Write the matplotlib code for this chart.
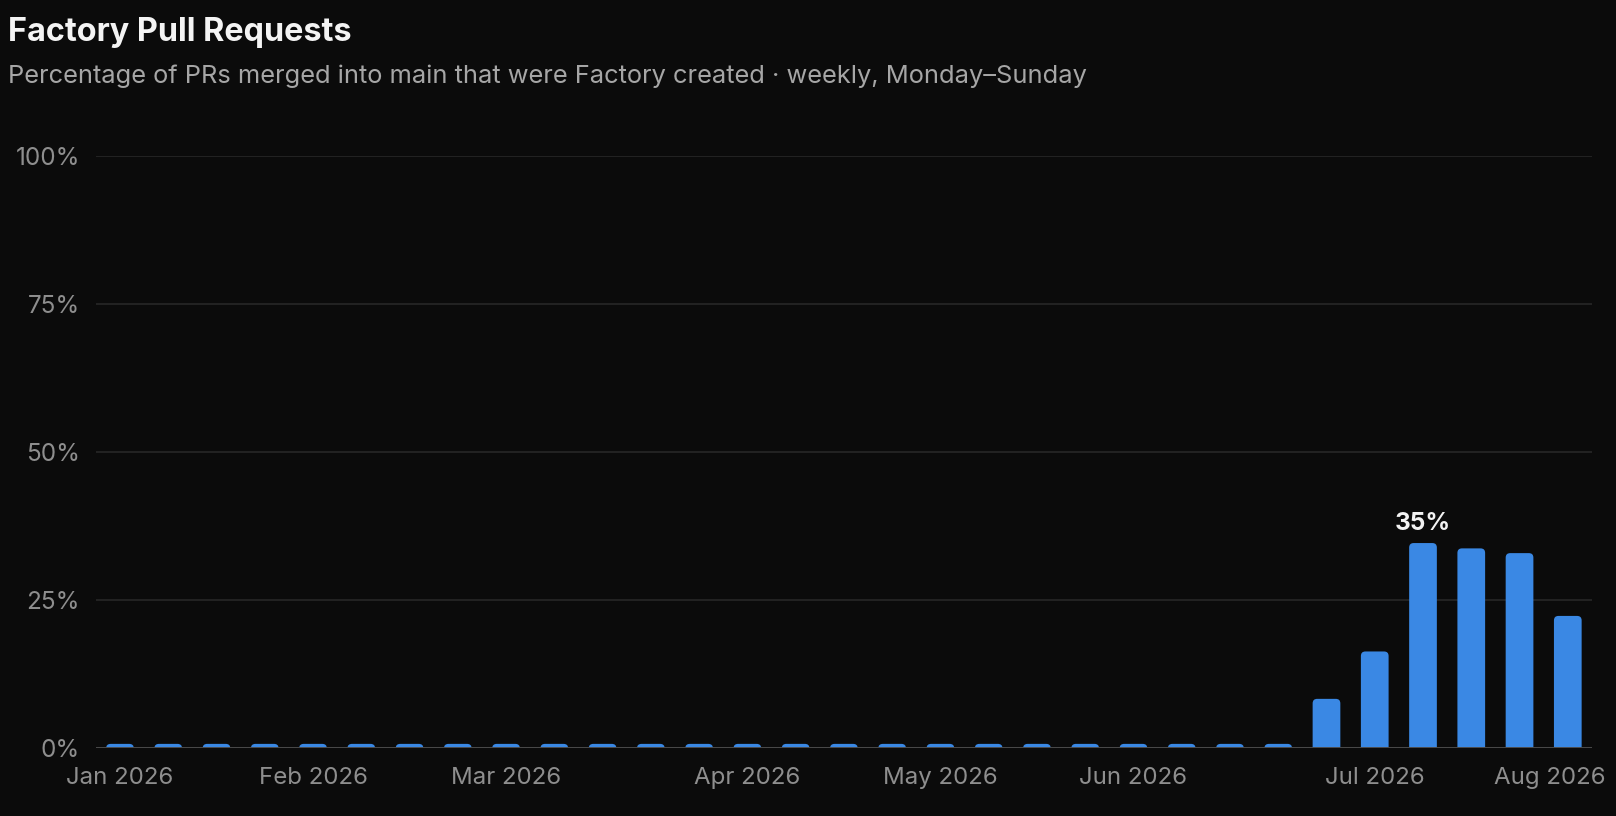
import numpy as np
import pandas as pd
import matplotlib
matplotlib.use("Agg")
import matplotlib.pyplot as plt
from matplotlib.patches import FancyBboxPatch
from matplotlib.transforms import ScaledTranslation

# weekly buckets, Monday-Sunday
week_start = "2026-01-05"
n_weeks = 31
pct_factory = [0, 0, 0, 0, 0, 0, 0, 0, 0, 0,
               0, 0, 0, 0, 0, 0, 0, 0, 0, 0,
               0, 0, 0, 0, 0, 8.3, 16.3, 34.6, 33.7, 32.9,
               22.3]
y_ticks = [0, 25, 50, 75, 100]
y_labels = ["0%", "25%", "50%", "75%", "100%"]

title = "Factory Pull Requests"
subtitle = "Percentage of PRs merged into main that were Factory created \u00b7 weekly, Monday\u2013Sunday"

BG = "#0b0b0b"
BAR = "#3a88e4"
GRID = "#2a2a2a"
BASE = "#4a4a4a"
TICK = "#8e8e8e"

plt.rcParams["font.family"] = ["Inter", "DejaVu Sans"]

weeks = pd.date_range(week_start, periods=n_weeks, freq="W-MON")
x = np.arange(n_weeks)
vals = np.array(pct_factory, dtype=float)
shown = np.maximum(vals, 0.7)  # tiny stub for empty weeks

fig = plt.figure(figsize=(16.16, 8.16), dpi=100, facecolor=BG)
ax = fig.add_axes([0.0593, 0.0833, 0.9258, 0.726])
ax.set_facecolor(BG)

bars = ax.bar(x, shown, width=0.574, color=BAR, zorder=3)

# round the top corners: swap each rect for a rounded box whose bottom is clipped
ax.set_xlim(-0.5, 30.5)
ax.set_ylim(0, 100)
fig.canvas.draw()
px_x = ax.transData.transform((1, 0))[0] - ax.transData.transform((0, 0))[0]
px_y = ax.transData.transform((0, 1))[1] - ax.transData.transform((0, 0))[1]
aspect = px_x / px_y
r = 4.5 / px_x
for b in bars:
    bx, bw, bh = b.get_x(), b.get_width(), b.get_height()
    drop = r * aspect
    p = FancyBboxPatch((bx, -drop), bw, bh + drop,
                       boxstyle=f"round,pad=0,rounding_size={r}",
                       mutation_aspect=aspect, facecolor=BAR,
                       edgecolor="none", zorder=3)
    ax.add_patch(p)
    b.set_visible(False)

for yt in y_ticks[1:]:
    ax.axhline(yt, color=GRID, lw=1.1, zorder=1)
ax.axhline(0, color=BASE, lw=1.4, zorder=4)

for s in ax.spines.values():
    s.set_visible(False)

ax.set_yticks(y_ticks)
ax.set_yticklabels(y_labels)
ax.tick_params(axis="y", length=0, pad=11.5, labelsize=17.5, labelcolor=TICK)

first_of_month = [i for i in range(n_weeks) if i == 0 or weeks[i].month != weeks[i - 1].month]
ax.set_xticks(first_of_month)
ax.set_xticklabels([weeks[i].strftime("%b %Y") for i in first_of_month])
ax.tick_params(axis="x", length=0, pad=14, labelsize=17.3, labelcolor=TICK)
last = ax.get_xticklabels()[-1]
last.set_transform(last.get_transform() + ScaledTranslation(-18 / 100, 0, fig.dpi_scale_trans))

# peak label
imax = int(np.argmax(vals))
ax.annotate(f"{round(vals[imax])}%", (x[imax], vals[imax]), xytext=(0, 9.5),
            textcoords="offset points", ha="center", va="baseline",
            fontsize=17.5, fontweight="bold", color="#f2f2f2", zorder=5)

fig.text(0.0051, 0.95, title, fontsize=23.3, fontweight="bold", color="#f4f4f4", va="baseline")
fig.text(0.0051, 0.898, subtitle, fontsize=18.3, color="#a6a6a6", va="baseline")

fig.savefig("out.png", dpi=100, facecolor=BG)
